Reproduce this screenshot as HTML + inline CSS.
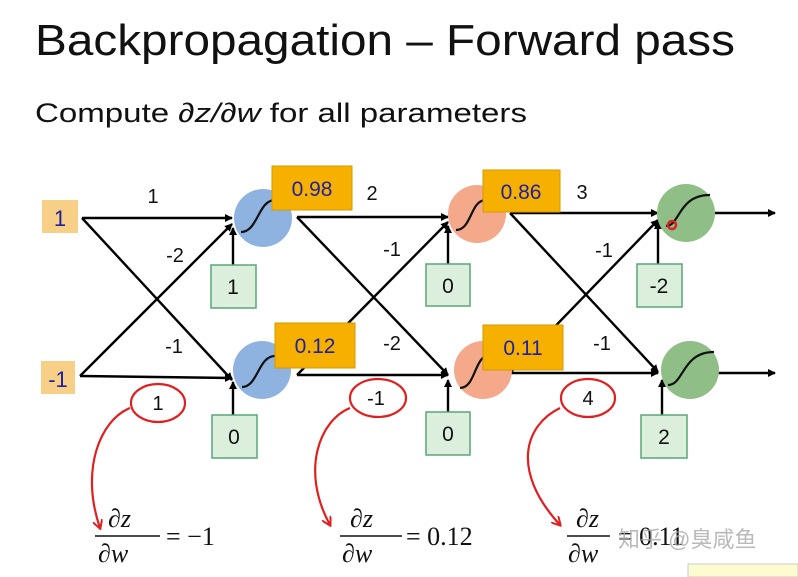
<!DOCTYPE html>
<html><head><meta charset="utf-8"><style>
html,body{margin:0;padding:0;background:#fff;}
svg{display:block;font-family:"Liberation Sans","Noto Sans CJK SC",sans-serif;}
</style></head><body>
<svg width="798" height="577" viewBox="0 0 798 577">
<defs>
<marker id="ah" markerWidth="8" markerHeight="8" refX="7" refY="4" orient="auto" markerUnits="userSpaceOnUse"><path d="M0,0 L8,4 L0,8 z" fill="#000"/></marker>
<marker id="rh" markerWidth="10" markerHeight="10" refX="8" refY="5" orient="auto" markerUnits="userSpaceOnUse"><path d="M0,0 L9,5 L0,10" fill="none" stroke="#e02020" stroke-width="2"/></marker>
</defs>
<text x="35" y="55" font-size="44" textLength="700" lengthAdjust="spacingAndGlyphs" fill="#111">Backpropagation – Forward pass</text>
<text x="35" y="122" font-size="27" textLength="492" lengthAdjust="spacingAndGlyphs" fill="#111">Compute <tspan font-style="italic">∂z/∂w</tspan> for all parameters</text>

<g stroke="#000" stroke-width="2.4" fill="none" marker-end="url(#ah)">
<line x1="82" y1="218" x2="232" y2="218"/>
<line x1="82" y1="218" x2="232" y2="380"/>
<line x1="80" y1="376" x2="232" y2="378"/>
<line x1="80" y1="376" x2="232" y2="224"/>
<line x1="297" y1="217" x2="448" y2="217"/>
<line x1="297" y1="217" x2="448" y2="375"/>
<line x1="297" y1="375" x2="448" y2="375"/>
<line x1="297" y1="375" x2="448" y2="222"/>
<line x1="510" y1="213" x2="658" y2="213"/>
<line x1="510" y1="213" x2="658" y2="372"/>
<line x1="510" y1="373" x2="658" y2="373"/>
<line x1="510" y1="373" x2="658" y2="220"/>
<line x1="715" y1="213" x2="775" y2="213"/>
<line x1="718" y1="373" x2="775" y2="373"/>
<line x1="233" y1="265" x2="233" y2="228"/>
<line x1="233" y1="415" x2="233" y2="382"/>
<line x1="448" y1="264" x2="448" y2="226"/>
<line x1="448" y1="412" x2="448" y2="380"/>
<line x1="658" y1="264" x2="658" y2="222"/>
<line x1="662" y1="415" x2="662" y2="380"/>
</g>

<g>
<circle cx="263" cy="218" r="29" fill="#8fb3e0"/>
<circle cx="262" cy="370" r="29" fill="#8fb3e0"/>
<circle cx="477" cy="214" r="29" fill="#f4a98a"/>
<circle cx="483" cy="370" r="29" fill="#f4a98a"/>
<circle cx="686" cy="213" r="29" fill="#8fbf87"/>
<circle cx="690" cy="370" r="29" fill="#8fbf87"/>
<g fill="none" stroke="#111" stroke-width="2.2">
<path d="M241,232 C258,232 258,200 275,200"/>
<path d="M242,387 C258,387 258,356 275,356"/>
<path d="M456,230 C472,230 470,200 486,200"/>
<path d="M460,388 C476,388 474,355 490,355"/>
<path d="M666,226 C680,226 678,195 710,195"/>
<path d="M668,385 C684,385 682,352 714,352"/>
</g>
<circle cx="672" cy="225" r="4" fill="none" stroke="#e02020" stroke-width="2.5"/>
</g>

<g font-size="22" fill="#2020a0" text-anchor="middle">
<rect x="42" y="200" width="36" height="33" fill="#f7cf86"/>
<text x="60" y="226">1</text>
<rect x="41" y="361" width="34" height="33" fill="#f7cf86"/>
<text x="58" y="387">-1</text>
</g>

<g font-size="21" fill="#2020a0" text-anchor="middle">
<rect x="272" y="166" width="80" height="44" fill="#f5b000" stroke="#d49a00"/>
<text x="312" y="196">0.98</text>
<rect x="275" y="323" width="80" height="45" fill="#f5b000" stroke="#d49a00"/>
<text x="315" y="353">0.12</text>
<rect x="483" y="170" width="77" height="42" fill="#f5b000" stroke="#d49a00"/>
<text x="521" y="199">0.86</text>
<rect x="483" y="325" width="80" height="45" fill="#f5b000" stroke="#d49a00"/>
<text x="523" y="355">0.11</text>
</g>

<g font-size="21" fill="#111" text-anchor="middle">
<rect x="211" y="265" width="45" height="43" fill="#dcefdc" stroke="#5aa67a" stroke-width="1.5"/><text x="233" y="294">1</text>
<rect x="212" y="415" width="45" height="43" fill="#dcefdc" stroke="#5aa67a" stroke-width="1.5"/><text x="234" y="444">0</text>
<rect x="426" y="264" width="44" height="42" fill="#dcefdc" stroke="#5aa67a" stroke-width="1.5"/><text x="448" y="293">0</text>
<rect x="426" y="412" width="44" height="43" fill="#dcefdc" stroke="#5aa67a" stroke-width="1.5"/><text x="448" y="441">0</text>
<rect x="637" y="264" width="45" height="43" fill="#dcefdc" stroke="#5aa67a" stroke-width="1.5"/><text x="659" y="293">-2</text>
<rect x="641" y="415" width="46" height="43" fill="#dcefdc" stroke="#5aa67a" stroke-width="1.5"/><text x="664" y="444">2</text>
</g>

<g font-size="20" fill="#111" text-anchor="middle">
<text x="153" y="203">1</text><text x="175" y="262">-2</text><text x="174" y="353">-1</text>
<text x="372" y="200">2</text><text x="392" y="256">-1</text><text x="392" y="350">-2</text>
<text x="582" y="199">3</text><text x="604" y="257">-1</text><text x="602" y="350">-1</text>
</g>

<g fill="none" stroke="#e02020" stroke-width="2.2">
<ellipse cx="158" cy="403" rx="27" ry="19"/>
<ellipse cx="378" cy="398" rx="28" ry="19"/>
<ellipse cx="588" cy="398" rx="27" ry="19"/>
<path d="M130,408 C100,420 80,470 100,528" marker-end="url(#rh)"/>
<path d="M350,408 C320,420 300,470 330,525" marker-end="url(#rh)"/>
<path d="M560,408 C525,425 510,470 560,525" marker-end="url(#rh)"/>
</g>
<g font-size="20" fill="#111" text-anchor="middle">
<text x="158" y="410">1</text><text x="376" y="405">-1</text><text x="588" y="405">4</text>
</g>

<g font-family="Liberation Serif" font-size="26" fill="#111">
<text x="108" y="527" font-style="italic">∂z</text><line x1="95" y1="536" x2="160" y2="536" stroke="#111" stroke-width="1.5"/><text x="98" y="562" font-style="italic">∂w</text>
<text x="166" y="545">= −1</text>
<text x="350" y="527" font-style="italic">∂z</text><line x1="340" y1="536" x2="402" y2="536" stroke="#111" stroke-width="1.5"/><text x="342" y="562" font-style="italic">∂w</text>
<text x="406" y="545">= 0.12</text>
<text x="576" y="527" font-style="italic">∂z</text><line x1="567" y1="536" x2="610" y2="536" stroke="#111" stroke-width="1.5"/><text x="568" y="562" font-style="italic">∂w</text>
<text x="618" y="545">= 0.11</text>
</g>
<text x="618" y="547" font-size="22" fill="#aaa" opacity="0.8" font-family="'Liberation Sans','Noto Sans CJK SC',sans-serif">知乎 @臭咸鱼</text>
<rect x="688" y="564" width="110" height="13" fill="#fdfbd0" stroke="#ccc"/>
</svg>
</body></html>
